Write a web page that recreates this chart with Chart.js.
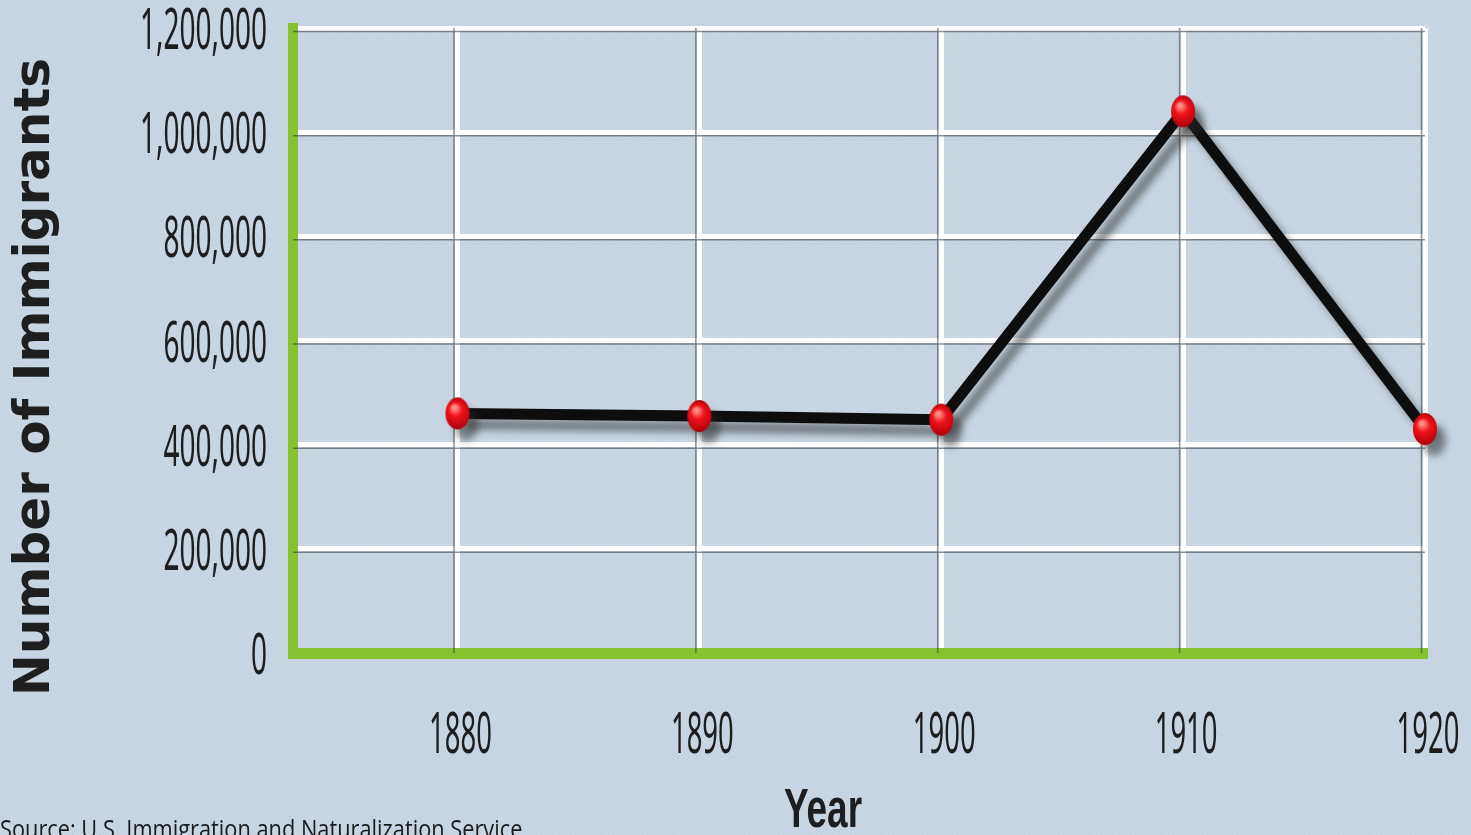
<!DOCTYPE html>
<html>
<head>
<meta charset="utf-8">
<style>
  html, body { margin: 0; padding: 0; overflow: hidden; }
  body {
    width: 1471px; height: 835px; position: relative;
    background-color: #c5d4e0;
    background-image: repeating-linear-gradient(45deg, rgba(255,255,255,0.10) 0px, rgba(255,255,255,0.10) 1px, rgba(0,0,0,0) 1px, rgba(0,0,0,0) 3px);
  }
  #wrap { position: absolute; left: 0; top: 0; width: 1471px; height: 835px; }
  #source {
    position: absolute; left: 0; top: 816px;
    font-family: "Open Sans", sans-serif; font-size: 25px; line-height: 25px; color: #1a1a1a;
    white-space: nowrap; transform-origin: 0 0;
  }
</style>
</head>
<body>
<div id="wrap"><canvas id="myChart"></canvas></div>
<div id="source">Source: U.S. Immigration and Naturalization Service</div>
<script src="https://cdn.jsdelivr.net/npm/chart.js@4.4.1/dist/chart.umd.min.js"></script>
<script>
    const years = [1880, 1890, 1900, 1910, 1920];
    const immigrants = [460000, 455000, 448000, 1040000, 430000];
    const yTicks = [0, 200000, 400000, 600000, 800000, 1000000, 1200000];
    const xTitle = "Year";
    const yTitle = "Number of Immigrants";

    // squeeze the source line to the printed width
    const src = document.getElementById("source");
    src.style.transform = "scaleX(" + (522 / src.offsetWidth) + ")";

    // red bead used for each data point
    const bead = document.createElement("canvas");
    bead.width = 26; bead.height = 34;
    (function () {
        const c = bead.getContext("2d");
        const g = c.createRadialGradient(10, 11, 2, 13, 17, 16);
        g.addColorStop(0, "#ff8a80");
        g.addColorStop(0.35, "#f0141c");
        g.addColorStop(1, "#b00008");
        c.fillStyle = g;
        c.beginPath();
        c.ellipse(13, 17, 12, 16, 0, 0, Math.PI * 2);
        c.fill();
    })();

    // thin dark edge next to each white grid line
    const gridEdge = {
        id: "gridEdge",
        beforeDatasetsDraw(chart) {
            const ctx = chart.ctx, a = chart.chartArea;
            const xs = chart.scales.x, ys = chart.scales.y;
            ctx.save();
            ctx.strokeStyle = "rgba(50,55,60,0.55)";
            ctx.lineWidth = 1.5;
            ctx.beginPath();
            ys.ticks.forEach(t => {
                const y = ys.getPixelForValue(t.value) + 3.5;
                if (y < a.bottom) { ctx.moveTo(a.left, y); ctx.lineTo(a.right, y); }
            });
            xs.ticks.forEach(t => {
                const x = xs.getPixelForValue(t.value) - 3.5;
                ctx.moveTo(x, a.top); ctx.lineTo(x, a.bottom);
            });
            ctx.stroke();
            ctx.restore();
        }
    };

    const lineShadow = {
        id: "lineShadow",
        beforeDatasetDraw(chart) {
            const ctx = chart.ctx;
            ctx.save();
            ctx.shadowColor = "rgba(40,40,40,0.5)";
            ctx.shadowBlur = 7;
            ctx.shadowOffsetX = 9;
            ctx.shadowOffsetY = 11;
        },
        afterDatasetDraw(chart) {
            chart.ctx.restore();
        }
    };

    // tall, narrow tick labels like the printed ones
    function squeezed(ctx, text, x, y, align, sx) {
        ctx.save();
        ctx.translate(x, y);
        ctx.scale(sx, 1);
        ctx.textAlign = align;
        ctx.fillText(text, 0, 0);
        ctx.restore();
    }

    const labelsAndTitles = {
        id: "labelsAndTitles",
        afterDraw(chart) {
            const ctx = chart.ctx, a = chart.chartArea;
            const xs = chart.scales.x, ys = chart.scales.y;
            ctx.save();
            ctx.fillStyle = "#1e1e1e";
            ctx.textBaseline = "alphabetic";
            ctx.font = "56px 'Noto Sans', sans-serif";
            ys.ticks.forEach(t => {
                squeezed(ctx, t.value.toLocaleString("en-US"), a.left - 26, ys.getPixelForValue(t.value) + 21, "right", 0.5);
            });
            xs.ticks.forEach(t => {
                squeezed(ctx, String(t.value), xs.getPixelForValue(t.value) + 3, a.bottom + 100, "center", 0.49);
            });
            ctx.font = "bold 56px 'Liberation Sans', sans-serif";
            squeezed(ctx, xTitle, 823, 827, "center", 0.66);
            ctx.translate(36, 377);
            ctx.rotate(-Math.PI / 2);
            ctx.textAlign = "center";
            ctx.textBaseline = "middle";
            ctx.font = "bold 50px 'DejaVu Sans', sans-serif";
            ctx.fillText(yTitle, 0, 0);
            ctx.restore();
        }
    };

    let myChart = new Chart("myChart", {
        type: "line",
        data: {
            labels: years,
            datasets: [{
                data: years.map((y, i) => ({ x: y, y: immigrants[i] })),
                borderColor: "#0d0d0d",
                borderWidth: 11,
                tension: 0,
                pointStyle: bead,
                pointRadius: 12,
                clip: false,
                fill: false
            }]
        },
        options: {
            responsive: true,
            maintainAspectRatio: false,
            animation: false,
            layout: { padding: { top: 28, right: 46, left: 0, bottom: 0 } },
            plugins: { legend: { display: false }, tooltip: { enabled: false } },
            scales: {
                x: {
                    type: "linear",
                    min: 1873.2,
                    max: 1920,
                    afterBuildTicks: (scale) => { scale.ticks = years.map(v => ({ value: v })); },
                    afterFit: (scale) => { scale.height = 182; },
                    grid: { color: "#ffffff", lineWidth: 5, drawTicks: false },
                    border: { color: "#86c232", width: 11 },
                    ticks: { display: false }
                },
                y: {
                    min: 0,
                    max: 1200000,
                    afterBuildTicks: (scale) => { scale.ticks = yTicks.map(v => ({ value: v })); },
                    afterFit: (scale) => { scale.width = 293; },
                    grid: { color: "#ffffff", lineWidth: 5, drawTicks: false },
                    border: { color: "#86c232", width: 10 },
                    ticks: { display: false }
                }
            }
        },
        plugins: [gridEdge, lineShadow, labelsAndTitles]
    });
</script>
</body>
</html>
